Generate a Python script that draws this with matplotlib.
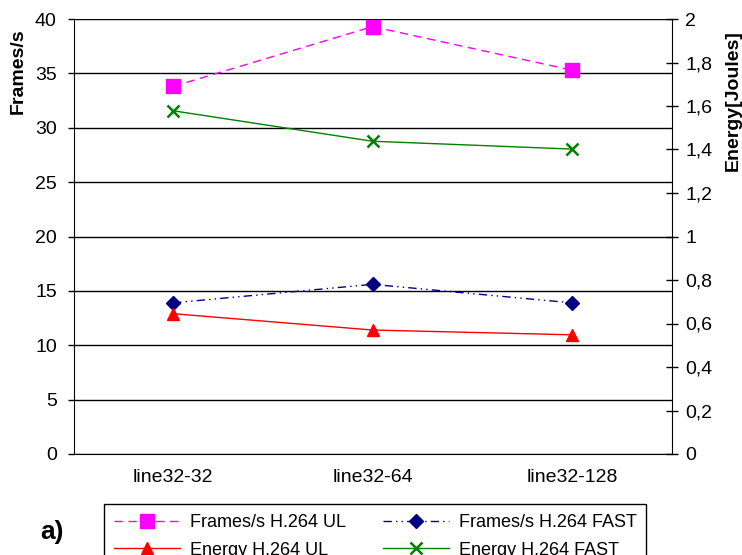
import matplotlib
matplotlib.use('Agg')
import matplotlib.pyplot as plt
from matplotlib.ticker import FuncFormatter
import numpy as np

plt.rcParams['font.family'] = ['Liberation Sans', 'DejaVu Sans']

categories = ['line32-32', 'line32-64', 'line32-128']
fps_ul = [33.8, 39.3, 35.3]
fps_fast = [13.9, 15.6, 13.9]
energy_ul = [0.645, 0.57, 0.548]
energy_fast = [1.578, 1.438, 1.402]

x = np.arange(len(categories))

fig = plt.figure(figsize=(7.42, 5.55), dpi=100)
ax = fig.add_axes([73.5 / 742, 1 - 454 / 555, 598 / 742, 435 / 555])
ax2 = ax.twinx()

l1, = ax.plot(x, fps_ul, color='#ff00ff', linestyle=(0, (6, 4)), linewidth=1,
              marker='s', markersize=10, label='Frames/s H.264 UL')
l2, = ax.plot(x, fps_fast, color='#000080', linestyle=(0, (6, 3, 1, 3, 1, 3)), linewidth=1,
              marker='D', markersize=7, label='Frames/s H.264 FAST')
l3, = ax2.plot(x, energy_ul, color='#ff0000', linestyle='-', linewidth=1,
               marker='^', markersize=9, label='Energy H.264 UL')
l4, = ax2.plot(x, energy_fast, color='#008000', linestyle='-', linewidth=1,
               marker='x', markersize=8, markeredgewidth=1.8, label='Energy H.264 FAST')

ax.set_xlim(-0.5, 2.5)
ax.set_ylim(0, 40)
ax.set_yticks(np.arange(0, 41, 5))
ax2.set_ylim(0, 2)
ax2.set_yticks(np.arange(0, 2.01, 0.2))
ax2.yaxis.set_major_formatter(FuncFormatter(lambda v, p: ('%g' % round(v, 1)).replace('.', ',')))

ax.set_xticks(x)
ax.set_xticklabels(categories, fontsize=14)
ax.tick_params(axis='x', length=0, pad=11)
ax.tick_params(axis='y', labelsize=14, direction='out', length=4, width=1, pad=8)
ax2.tick_params(axis='y', labelsize=14, direction='inout', length=8, width=1, pad=6)

ax.grid(axis='y', color='black', linewidth=1)
ax.set_axisbelow(True)
for a in (ax, ax2):
    a.spines['top'].set_visible(False)
ax.spines['right'].set_visible(False)
ax2.spines['left'].set_visible(False)
ax2.spines['bottom'].set_visible(False)

ax.set_ylabel('Frames/s', fontsize=14, fontweight='bold', ha='right')
ax.yaxis.set_label_coords(-47 / 598, 1 - 9 / 435)
ax2.set_ylabel('Energy[Joules]', fontsize=14, fontweight='bold', ha='right')
ax2.yaxis.set_label_coords(1 + 53 / 598, 1 - 11 / 435)

fig.legend(handles=[l1, l3, l2, l4], ncol=2, loc='upper left',
           bbox_to_anchor=(104 / 742, 1 - 504 / 555), borderaxespad=0, fontsize=13,
           frameon=True, fancybox=False, edgecolor='black', framealpha=1,
           handlelength=3.65, columnspacing=2.05, borderpad=0.55, labelspacing=0.6,
           handletextpad=0.55)

fig.text(40 / 742, 1 - 532 / 555, 'a)', fontsize=19, fontweight='bold', va='center')

fig.savefig('out.png', dpi=100)
